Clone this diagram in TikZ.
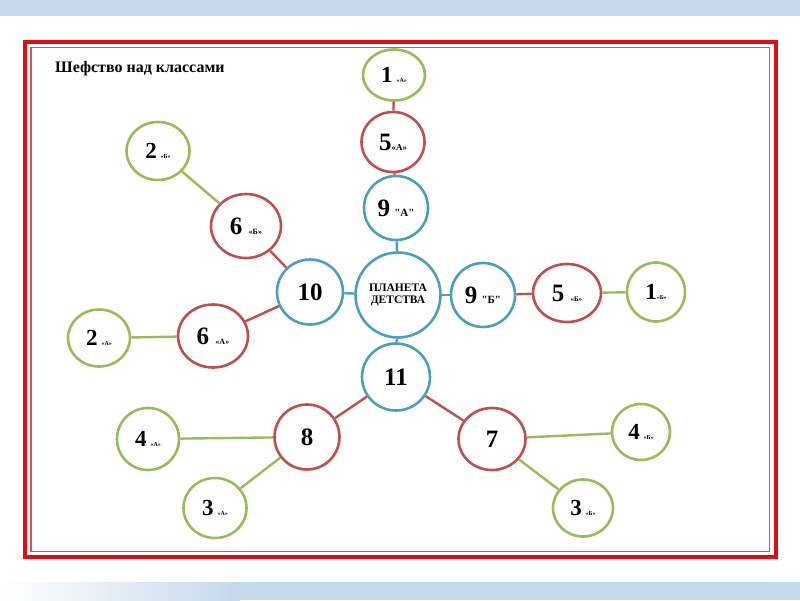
\documentclass[tikz,border=0pt]{standalone}
\usepackage{fontspec}
\setmainfont{Liberation Serif}
\usepackage{xcolor}
\definecolor{bandblue}{RGB}{197,217,236}
\definecolor{framered}{RGB}{226,12,20}
\definecolor{ringblue}{RGB}{75,160,190}
\definecolor{ringred}{RGB}{192,80,77}
\definecolor{ringgreen}{RGB}{155,187,89}
\usetikzlibrary{shapes.geometric}
\newcommand{\kl}[2][6]{{\fontsize{#1}{#1}\selectfont #2}}

\begin{document}
\begin{tikzpicture}[x=1pt,y=-1pt,
  ring/.style={draw,ellipse,line width=2.6pt,fill=white,inner sep=0pt,
    minimum width=63pt,minimum height=60pt,font=\bfseries\fontsize{25}{25}\selectfont},
  blring/.style={ring,draw=ringblue},
  rdring/.style={ring,draw=ringred},
  grring/.style={ring,draw=ringgreen,font=\bfseries\fontsize{23}{23}\selectfont},
  bline/.style={ringblue,line width=2.4pt},
  rline/.style={ringred,line width=2.4pt},
  gline/.style={ringgreen,line width=2.4pt}]
  \useasboundingbox (0,0) rectangle (800,600);
  % bands and frame
  \fill[bandblue] (0,0) rectangle (800,16);
  \shade[left color=white,right color=bandblue] (0,582) rectangle (240,600);
  \fill[bandblue] (239.5,582) rectangle (800,600);
  \draw[framered,line width=4pt] (24.5,42) rectangle (776,557);
  \draw[framered!75,line width=1.3pt] (31,47.5) rectangle (769.5,551.5);
  \node[font=\bfseries\fontsize{16}{17}\selectfont,anchor=west,inner sep=0pt] (title) at (55,69) {Шефство над классами};

  % centre
  \node[blring,minimum size=85pt,font=\bfseries\fontsize{11.5}{12}\selectfont,align=center] (pl) at (398,295) {ПЛАНЕТА\\ДЕТСТВА};
  \node[blring,minimum width=66pt,minimum height=65pt] (c10) at (310,292) {10};
  \node[blring,minimum size=64pt] (c9a) at (396,208) {9\,\kl[11]{\textquotedbl А\textquotedbl}};
  \node[blring,minimum size=64pt] (c9b) at (483,295) {9\,\kl[11]{\textquotedbl Б\textquotedbl}};
  \node[blring,minimum width=68pt,minimum height=67pt] (c11) at (396,377) {11};

  % red ring
  \node[rdring] (c5a) at (393,142) {5\kl[9]{«А»}};
  \node[rdring,minimum width=70pt,minimum height=64pt] (c6b) at (246,226) {6 \kl[8]{«Б»}};
  \node[rdring,minimum width=70pt,minimum height=63pt] (c6a) at (213,336) {6 \kl[8]{«А»}};
  \node[rdring,minimum width=68pt,minimum height=58pt] (c5b) at (567,293) {5 \kl[7]{«Б»}};
  \node[rdring,minimum width=65pt,minimum height=65pt] (c8) at (307,437) {8};
  \node[rdring,minimum width=67pt,minimum height=62pt] (c7) at (492,439) {7};

  % green ring
  \node[grring,minimum width=62pt,minimum height=51pt] (c1a) at (394,75) {1\,\kl{«А»}};
  \node[grring,minimum width=63pt,minimum height=58pt] (c2b) at (158,151) {2\,\kl{«Б»}};
  \node[grring,minimum width=62pt,minimum height=57pt] (c2a) at (99,338) {2\,\kl{«А»}};
  \node[grring,minimum width=58pt,minimum height=59pt] (c1b) at (656,292) {1\kl{«Б»}};
  \node[grring,minimum width=62pt,minimum height=62pt] (c4a) at (148,439) {4\,\kl{«А»}};
  \node[grring,minimum width=63pt,minimum height=60pt] (c3a) at (215,508) {3\,\kl{«А»}};
  \node[grring,minimum width=58pt,minimum height=56pt] (c4b) at (641,432) {4\,\kl{«Б»}};
  \node[grring,minimum width=60pt,minimum height=57pt] (c3b) at (583,508) {3\,\kl{«Б»}};

  % links
  \draw[bline] (pl)--(c10);
  \draw[bline] (pl)--(c9a);
  \draw[bline] (pl)--(c9b);
  \draw[bline] (pl)--(c11);
  \draw[rline] (c9a)--(c5a);
  \draw[rline] (c5a)--(c1a);
  \draw[rline] (c10)--(c6b);
  \draw[rline] (c10)--(c6a);
  \draw[rline] (c9b)--(c5b);
  \draw[rline] (c11)--(c8);
  \draw[rline] (c11)--(c7);
  \draw[gline] (c6b)--(c2b);
  \draw[gline] (c6a)--(c2a);
  \draw[gline] (c5b)--(c1b);
  \draw[gline] (c8)--(c4a);
  \draw[gline] (c8)--(c3a);
  \draw[gline] (c7)--(c4b);
  \draw[gline] (c7)--(c3b);
\end{tikzpicture}
\end{document}
